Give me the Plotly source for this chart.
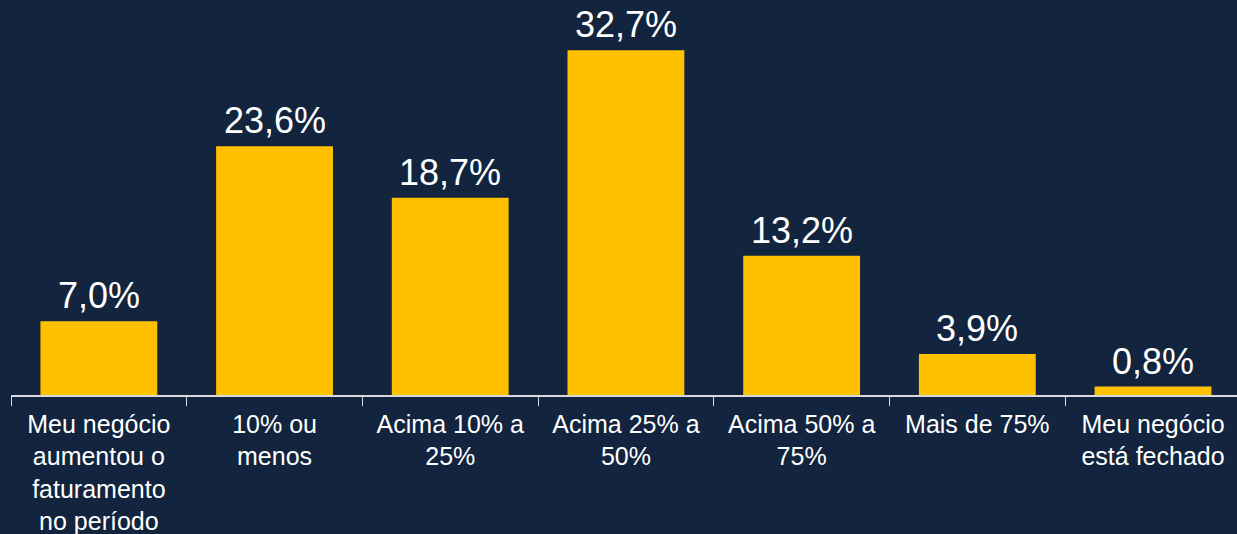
import plotly.graph_objects as go

categories = [
    "Meu negócio<br>aumentou o<br>faturamento<br>no período",
    "10% ou<br>menos",
    "Acima 10% a<br>25%",
    "Acima 25% a<br>50%",
    "Acima 50% a<br>75%",
    "Mais de 75%",
    "Meu negócio<br>está fechado",
]
values = [7.0, 23.6, 18.7, 32.7, 13.2, 3.9, 0.8]
labels = [f"{v:.1f}%".replace(".", ",") for v in values]

BG = "#12243e"
BAR = "#FFC000"
FONT = "Liberation Sans, Arial, sans-serif"

fig = go.Figure(
    go.Bar(
        x=categories,
        y=values,
        marker=dict(color=BAR, line=dict(width=0)),
        hoverinfo="skip",
    )
)

for c, v, t in zip(categories, values, labels):
    fig.add_annotation(
        x=c, y=v, text=t, showarrow=False,
        xref="x", yref="y",
        yanchor="bottom", yshift=3,
        font=dict(color="white", size=36, family=FONT),
    )

fig.update_layout(
    width=1237,
    height=534,
    paper_bgcolor=BG,
    plot_bgcolor=BG,
    margin=dict(l=11, r=0, t=26, b=139, autoexpand=False),
    bargap=0.335,
    showlegend=False,
    font=dict(family=FONT, color="white"),
)
fig.update_xaxes(
    type="category",
    range=[-0.5, 6.478],
    automargin=False,
    showline=True,
    linecolor="#d9d9d9",
    linewidth=1.5,
    ticks="outside",
    tickson="boundaries",
    ticklen=9,
    tickcolor="#d9d9d9",
    tickwidth=1,
    ticklabelstandoff=6,
    tickfont=dict(size=25, color="white", family=FONT),
    showgrid=False,
    zeroline=False,
    fixedrange=True,
)
fig.update_yaxes(
    range=[0, 35],
    visible=False,
    automargin=False,
    showgrid=False,
    zeroline=False,
    fixedrange=True,
)

fig.write_html(
    "out.html",
    config={"displayModeBar": False},
    post_script="document.body.style.margin='0';document.body.style.background='" + BG + "';",
)
